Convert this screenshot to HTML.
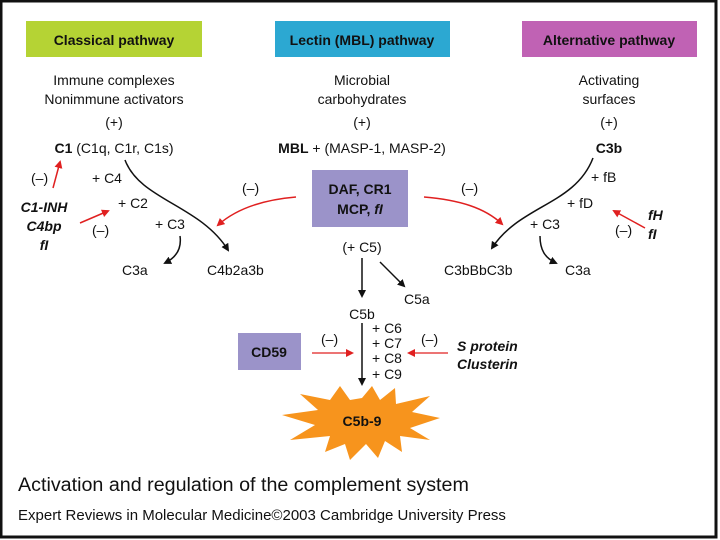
<!DOCTYPE html>
<html><head><meta charset="utf-8"><style>
html,body{margin:0;padding:0;background:#fff}
svg{display:block}
text{font-family:"Liberation Sans",Arial,sans-serif;fill:#111}
</style></head><body>
<svg width="720" height="540" viewBox="0 0 720 540" xmlns="http://www.w3.org/2000/svg">
<defs>
<marker id="ab" markerWidth="8" markerHeight="8" refX="6" refY="4" orient="auto" markerUnits="userSpaceOnUse"><path d="M0,0 L8,4 L0,8 Z" fill="#111"/></marker>
<marker id="ar" markerWidth="8" markerHeight="8" refX="6" refY="4" orient="auto" markerUnits="userSpaceOnUse"><path d="M0,0 L8,4 L0,8 Z" fill="#e02020"/></marker>
</defs>
<rect x="0" y="0" width="720" height="540" fill="#fff"/>
<rect x="1" y="1" width="715" height="536" fill="none" stroke="#111" stroke-width="3"/>
<rect x="26" y="21" width="176" height="36" fill="#b5d334"/>
<rect x="275" y="21" width="175" height="36" fill="#2ca8d2"/>
<rect x="522" y="21" width="175" height="36" fill="#c062b4"/>
<g font-size="14" font-weight="bold" text-anchor="middle">
<text x="114" y="45">Classical pathway</text>
<text x="362" y="45">Lectin (MBL) pathway</text>
<text x="609" y="45">Alternative pathway</text>
</g>
<g font-size="14" text-anchor="middle">
<text x="114" y="85">Immune complexes</text>
<text x="114" y="104">Nonimmune activators</text>
<text x="362" y="85">Microbial</text>
<text x="362" y="104">carbohydrates</text>
<text x="609" y="85">Activating</text>
<text x="609" y="104">surfaces</text>
<text x="114" y="127">(+)</text>
<text x="362" y="127">(+)</text>
<text x="609" y="127">(+)</text>
<text x="114" y="153"><tspan font-weight="bold">C1</tspan> (C1q, C1r, C1s)</text>
<text x="362" y="153"><tspan font-weight="bold">MBL</tspan> + (MASP-1, MASP-2)</text>
<text x="609" y="153" font-weight="bold">C3b</text>
</g>
<rect x="312" y="170" width="96" height="57" fill="#9b93c9"/>
<g font-size="14" font-weight="bold" text-anchor="middle">
<text x="360" y="194">DAF, CR1</text>
<text x="360" y="214">MCP, <tspan font-style="italic">fI</tspan></text>
</g>
<path d="M125,160 C140,200 200,205 228,250" fill="none" stroke="#111" stroke-width="1.5" marker-end="url(#ab)"/>
<path d="M296,197 C260,200 235,210 218,225" fill="none" stroke="#e02020" stroke-width="1.5" marker-end="url(#ar)"/>
<path d="M53,188 L60,162" fill="none" stroke="#e02020" stroke-width="1.5" marker-end="url(#ar)"/>
<path d="M80,223 L108,211" fill="none" stroke="#e02020" stroke-width="1.5" marker-end="url(#ar)"/>
<path d="M180,236 C182,250 175,258 165,263" fill="none" stroke="#111" stroke-width="1.5" marker-end="url(#ab)"/>
<g font-size="14">
<text x="31" y="183">(–)</text>
<text x="92" y="183">+ C4</text>
<text x="118" y="208">+ C2</text>
<text x="155" y="229">+ C3</text>
<text x="92" y="235">(–)</text>
<text x="122" y="275">C3a</text>
<text x="207" y="275">C4b2a3b</text>
<text x="242" y="193">(–)</text>
<text x="461" y="193">(–)</text>
</g>
<g font-size="14" font-weight="bold" font-style="italic" text-anchor="middle">
<text x="44" y="212">C1-INH</text>
<text x="44" y="231">C4bp</text>
<text x="44" y="250">fI</text>
</g>
<path d="M593,158 C575,205 520,205 492,248" fill="none" stroke="#111" stroke-width="1.5" marker-end="url(#ab)"/>
<path d="M424,197 C460,200 485,208 502,224" fill="none" stroke="#e02020" stroke-width="1.5" marker-end="url(#ar)"/>
<path d="M645,228 L614,211" fill="none" stroke="#e02020" stroke-width="1.5" marker-end="url(#ar)"/>
<path d="M540,236 C540,250 545,258 556,263" fill="none" stroke="#111" stroke-width="1.5" marker-end="url(#ab)"/>
<g font-size="14">
<text x="591" y="182">+ fB</text>
<text x="567" y="208">+ fD</text>
<text x="530" y="229">+ C3</text>
<text x="615" y="235">(–)</text>
<text x="444" y="275">C3bBbC3b</text>
<text x="565" y="275">C3a</text>
</g>
<g font-size="14" font-weight="bold" font-style="italic">
<text x="648" y="220">fH</text>
<text x="648" y="239">fI</text>
</g>
<g font-size="14">
<text x="362" y="252" text-anchor="middle">(+ C5)</text>
<text x="404" y="304">C5a</text>
<text x="362" y="319" text-anchor="middle">C5b</text>
<text x="372" y="333">+ C6</text>
<text x="372" y="348">+ C7</text>
<text x="372" y="363">+ C8</text>
<text x="372" y="379">+ C9</text>
<text x="321" y="344">(–)</text>
<text x="421" y="344">(–)</text>
</g>
<path d="M362,258 L362,296" stroke="#111" stroke-width="1.5" marker-end="url(#ab)"/>
<path d="M380,262 L404,286" stroke="#111" stroke-width="1.5" marker-end="url(#ab)"/>
<path d="M362,323 L362,384" stroke="#111" stroke-width="1.5" marker-end="url(#ab)"/>
<path d="M312,353 L352,353" stroke="#e02020" stroke-width="1.3" marker-end="url(#ar)"/>
<path d="M448,353 L409,353" stroke="#e02020" stroke-width="1.3" marker-end="url(#ar)"/>
<rect x="238" y="333" width="63" height="37" fill="#9b93c9"/>
<text x="269" y="357" font-size="14" font-weight="bold" text-anchor="middle">CD59</text>
<g font-size="14" font-weight="bold" font-style="italic">
<text x="457" y="351">S protein</text>
<text x="457" y="369">Clusterin</text>
</g>
<polygon fill="#f7941d" points="362,398 372,386 380,400 395,388 396,404 430,396 412,412 440,418 410,428 430,440 400,436 402,452 385,441 378,458 366,444 350,460 345,444 325,452 330,436 290,440 315,425 282,415 318,410 300,394 330,400 340,386 350,400"/>
<text x="362" y="426" font-size="14" font-weight="bold" text-anchor="middle">C5b-9</text>
<text x="18" y="491" font-size="19.7">Activation and regulation of the complement system</text>
<text x="18" y="520" font-size="15">Expert Reviews in Molecular Medicine©2003 Cambridge University Press</text>
</svg>
</body></html>
